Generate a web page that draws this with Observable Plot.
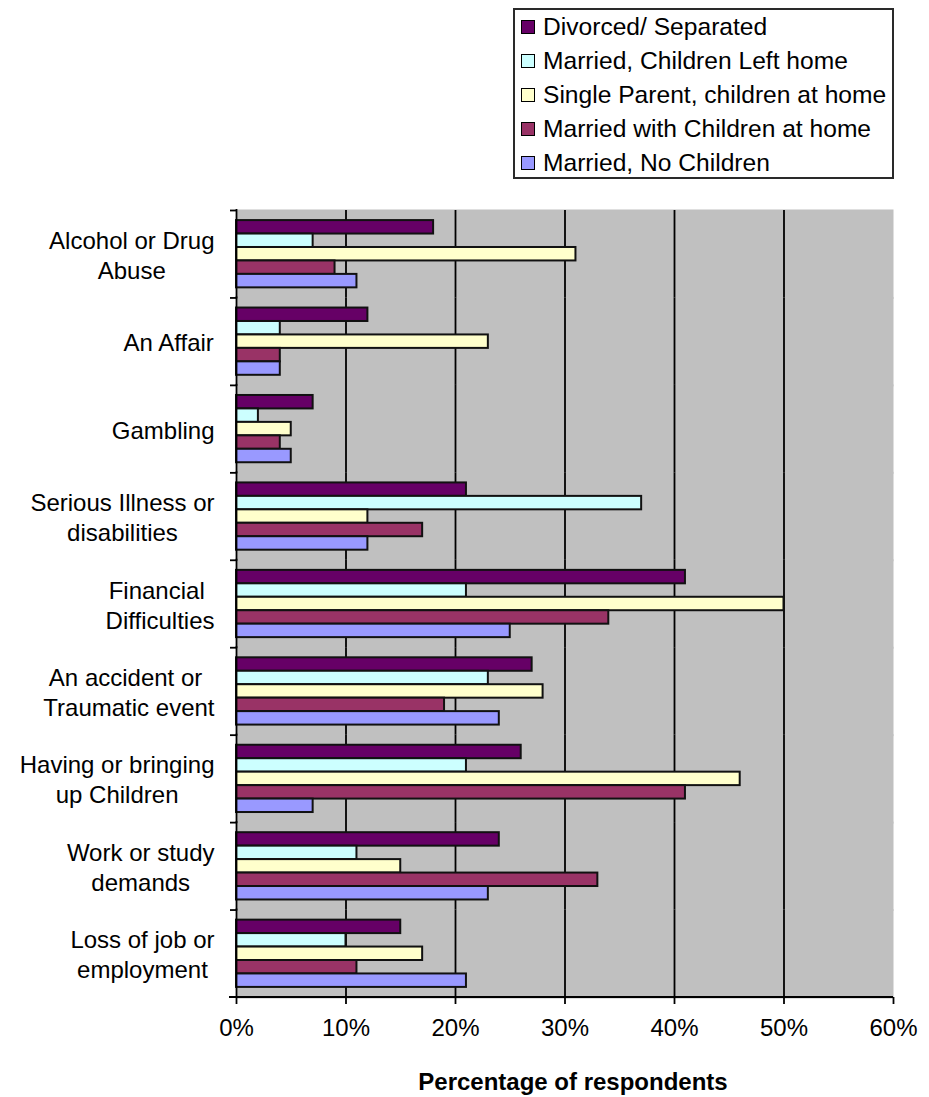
<!DOCTYPE html>
<html>
<head>
<meta charset="utf-8">
<script src="https://cdn.jsdelivr.net/npm/d3@7"></script>
<script src="https://cdn.jsdelivr.net/npm/@observablehq/plot@0.6"></script>
<style>
  html, body { margin: 0; padding: 0; background: #fff; }
  body { width: 929px; height: 1097px; position: relative; overflow: hidden;
         font-family: "Liberation Sans", Arial, sans-serif; color: #000; }
  #legend-area { position: relative; height: 200px; }
  #legend { position: absolute; left: 513px; top: 8px; width: 381px; height: 171px;
            box-sizing: border-box; border: 2px solid #2a2a2a; background: #fff; padding-left: 6px; }
  .row { height: 34px; display: flex; align-items: center; font-size: 24.6px; white-space: nowrap; }
  .sw { width: 12px; height: 12px; border: 1px solid #000; margin-right: 8px; flex: none; }
  #chart svg { display: block; }
  #xtitle { position: absolute; top: 1064px; left: 573px; transform: translateX(-50%);
            line-height: 36px; font-size: 24px; font-weight: bold; white-space: nowrap; }
</style>
</head>
<body>
<div id="legend-area"><div id="legend"></div></div>
<div id="chart"></div>
<div id="xtitle">Percentage of respondents</div>
<script>
// Causes of family stress, by household type (% of respondents)
const categories = [
  "Alcohol or Drug Abuse", "An Affair", "Gambling", "Serious Illness or disabilities",
  "Financial Difficulties", "An accident or Traumatic event",
  "Having or bringing up Children", "Work or study demands", "Loss of job or employment"
];
const categoryLabels = [
  "Alcohol or Drug\nAbuse", "An Affair", "Gambling", "Serious Illness or\ndisabilities",
  "Financial\u00a0\nDifficulties", "An accident or\u00a0\nTraumatic event",
  "Having or bringing\nup Children", "Work or study\ndemands", "Loss of job or\nemployment"
];
const seriesNames = [
  "Divorced/ Separated", "Married, Children Left home", "Single Parent, children at home",
  "Married with Children at home", "Married, No Children"
];
const seriesColors = ["#660066", "#ccffff", "#ffffcc", "#993366", "#9999ff"];

const divorced        = [18, 12, 7, 21, 41, 27, 26, 24, 15];
const marriedLeftHome = [7, 4, 2, 37, 21, 23, 21, 11, 10];
const singleParent    = [31, 23, 5, 12, 50, 28, 46, 15, 17];
const marriedWithKids = [9, 4, 4, 17, 34, 19, 41, 33, 11];
const marriedNoKids   = [11, 4, 5, 12, 25, 24, 7, 23, 21];

const xTicks = [0, 10, 20, 30, 40, 50, 60];

const seriesValues = [divorced, marriedLeftHome, singleParent, marriedWithKids, marriedNoKids];
const rows = categories.flatMap((c, i) =>
  seriesNames.map((s, j) => ({category: c, series: s, value: seriesValues[j][i]})));

// Legend
const legend = document.getElementById("legend");
seriesNames.forEach((s, j) => {
  const row = document.createElement("div");
  row.className = "row";
  const sw = document.createElement("span");
  sw.className = "sw";
  sw.style.background = seriesColors[j];
  row.appendChild(sw);
  row.appendChild(document.createTextNode(s));
  legend.appendChild(row);
});

// Layout
const width = 929, height = 860;
const marginLeft = 236, marginRight = 36, marginTop = 10, marginBottom = 63;
const bandH = (height - marginTop - marginBottom) / categories.length;
const fontSize = 24;
const labelGap = 22;

const ctx = document.createElement("canvas").getContext("2d");
ctx.font = `${fontSize}px "Liberation Sans"`;
const blockWidth = (label) => Math.max(...label.split("\n").map(l => ctx.measureText(l).width));

const labelMarks = categories.map((c, i) =>
  Plot.text([c], {
    fy: d => d,
    text: () => categoryLabels[i],
    frameAnchor: "left",
    textAnchor: "middle",
    lineHeight: 1.25,
    fontSize,
    fill: "#000",
    dx: -(labelGap + blockWidth(categoryLabels[i]) / 2)
  }));

const chart = Plot.plot({
  width, height, marginLeft, marginRight, marginTop, marginBottom,
  style: {fontFamily: '"Liberation Sans", Arial, sans-serif', fontSize: `${fontSize}px`, color: "#000", background: "transparent"},
  x: {domain: [0, 60]},
  y: {domain: seriesNames, paddingInner: 0, paddingOuter: 0.75, round: false, axis: null},
  fy: {domain: categories, padding: 0, round: false},
  color: {domain: seriesNames, range: seriesColors},
  marks: [
    // plot-area background; each facet tile overlaps its neighbour slightly to avoid seams
    Plot.frame({fill: "#c0c0c0", stroke: "none", insetTop: -1, insetBottom: -1}),
    Plot.gridX([10, 20, 30, 40, 50], {stroke: "#000", strokeOpacity: 1, strokeWidth: 1.8}),
    Plot.barX(rows, {
      fy: "category", y: "series", x: "value", fill: "series",
      stroke: "#111", strokeWidth: 2
    }),
    Plot.ruleX([0], {stroke: "#000", strokeWidth: 1.8, insetTop: -1, insetBottom: -1}),
    Plot.axisFy({anchor: "left", tickSize: 6, tickFormat: () => "", label: null,
                 stroke: "#000", strokeWidth: 1.8, dy: -bandH / 2}),
    Plot.axisX(xTicks, {anchor: "bottom", tickSize: 7, tickPadding: 14, label: null,
                        tickFormat: d => d + "%", stroke: "#000", strokeWidth: 1.8, fontSize}),
    ...labelMarks
  ]
});

// Horizontal category-axis line along the bottom of the plot area
const xs = chart.scale("x");
d3.select(chart).append("line")
  .attr("x1", xs.apply(0) - 7).attr("x2", xs.apply(60))
  .attr("y1", height - marginBottom).attr("y2", height - marginBottom)
  .attr("stroke", "#000").attr("stroke-width", 1.8);

document.getElementById("chart").appendChild(chart);
</script>
</body>
</html>
